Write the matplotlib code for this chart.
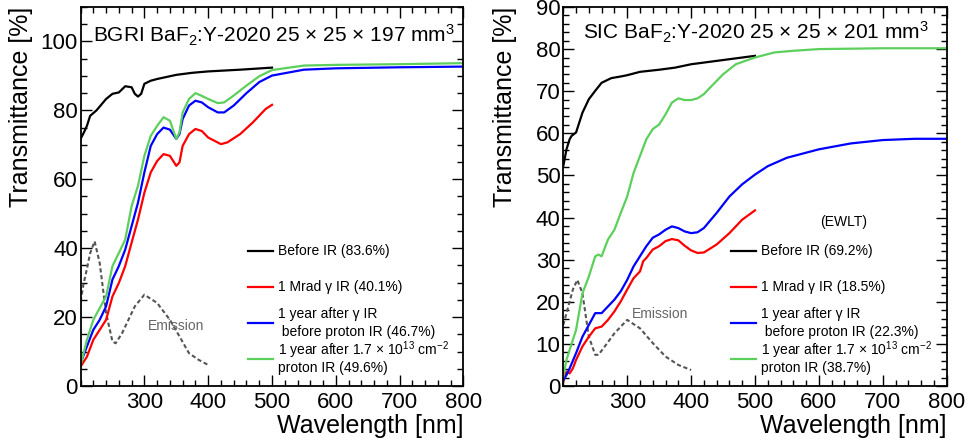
import numpy as np
import matplotlib
matplotlib.use("Agg")
import matplotlib.pyplot as plt
from matplotlib.ticker import MultipleLocator

plt.rcParams['font.family'] = ['Liberation Sans', 'DejaVu Sans']
plt.rcParams['mathtext.fontset'] = 'custom'
plt.rcParams['mathtext.rm'] = 'Liberation Sans'
plt.rcParams['mathtext.it'] = 'Liberation Sans:italic'

# ---------------- BGRI (left panel) ----------------
bgri_wl_before = [200, 205, 210, 215, 225, 240, 250, 260, 270, 280, 285, 290, 295, 300, 310,
                  320, 340, 350, 375, 400, 450, 500]
bgri_before = [71.7, 73.5, 75.5, 78.4, 80.0, 83.3, 84.8, 85.2, 87.0, 86.7, 84.8, 84.0, 84.8, 87.7, 88.6,
               89.1, 89.9, 90.3, 90.9, 91.3, 91.8, 92.4]

bgri_wl_gamma = [200, 210, 220, 230, 240, 250, 260, 270, 280, 290, 300, 310, 320, 330, 340, 350,
                 355, 360, 370, 380, 390, 400, 420, 430, 450, 470, 490, 500]
bgri_gamma = [5.6, 8.5, 13.4, 16.3, 19.2, 26.0, 29.9, 34.8, 41.6, 48.3, 56.1, 62.0, 65.3, 67.3, 66.8, 63.9,
              64.9, 69.7, 73.1, 74.6, 74.0, 72.1, 70.2, 70.7, 73.1, 76.5, 80.4, 81.6]

bgri_wl_long = [200, 210, 220, 230, 240, 250, 260, 270, 280, 290, 300, 310, 320, 330, 340, 350,
                355, 360, 370, 380, 390, 400, 415, 425, 440, 460, 480, 500, 550, 600, 700, 800]
bgri_1yr = [6.6, 11.5, 16.3, 19.2, 23.1, 30.9, 34.8, 39.6, 46.4, 53.2, 62.0, 69.7, 73.1, 75.0, 74.4, 71.7,
            73.1, 77.5, 81.4, 82.8, 82.3, 80.9, 79.4, 79.4, 81.4, 85.0, 88.2, 90.1, 91.8, 92.2, 92.5, 92.7]
bgri_proton = [6.0, 13.4, 19.2, 22.6, 26.0, 34.8, 38.6, 42.5, 52.2, 58.1, 66.8, 72.6, 75.5, 78.0, 77.0, 71.7,
               73.6, 79.4, 83.3, 85.0, 84.2, 83.3, 82.1, 82.3, 84.3, 87.2, 89.9, 91.7, 93.0, 93.2, 93.4, 93.7]

bgri_wl_em = [200, 205, 210, 215, 222, 230, 240, 250, 255, 265, 275, 285, 300, 320, 340, 355, 370, 385, 400]
bgri_em = [24.6, 29.9, 34.0, 38.5, 42.0, 35.7, 21.2, 12.9, 12.4, 15.3, 19.2, 23.1, 26.5, 24.1, 19.2, 14.4,
           9.5, 7.6, 6.1]

# ---------------- SIC (right panel) ----------------
sic_wl_before = [200, 205, 210, 213, 220, 230, 240, 250, 260, 275, 290, 300, 320, 350, 375, 400, 450, 500]
sic_before = [52.2, 56.2, 58.6, 59.4, 60.2, 64.9, 68.1, 70.1, 72.0, 73.1, 73.5, 73.8, 74.6, 75.1, 75.6,
              76.4, 77.4, 78.4]

sic_wl_gamma = [200, 205, 210, 215, 220, 230, 240, 250, 260, 270, 280, 290, 300, 310, 320, 325, 330, 340,
                350, 360, 370, 380, 390, 400, 410, 420, 440, 460, 480, 500]
sic_gamma = [1.0, 3.4, 3.0, 4.2, 6.2, 9.4, 11.7, 13.7, 14.1, 15.7, 17.7, 20.1, 22.9, 25.6, 27.2, 29.6, 30.4,
             32.4, 33.2, 34.4, 34.9, 34.6, 33.3, 32.2, 31.6, 31.7, 33.6, 36.3, 39.5, 41.7]

sic_wl_1yr = [200, 205, 210, 220, 230, 240, 250, 260, 270, 280, 290, 300, 310, 320, 330, 340, 350, 360,
              370, 380, 390, 400, 410, 420, 440, 460, 480, 500, 520, 550, 600, 650, 700, 750, 800]
sic_1yr = [1.4, 2.6, 4.2, 7.8, 11.7, 14.5, 17.3, 17.3, 18.9, 20.5, 22.5, 25.2, 28.4, 30.8, 33.2, 35.2, 36.0,
           37.1, 37.9, 37.5, 36.7, 36.3, 36.5, 37.5, 41.1, 45.0, 47.9, 50.2, 52.2, 54.2, 56.2, 57.6, 58.4,
           58.7, 58.7]

sic_wl_proton = [200, 205, 210, 220, 230, 240, 250, 255, 260, 270, 280, 290, 300, 310, 320, 330, 340, 350,
                 360, 370, 380, 390, 400, 410, 420, 430, 450, 470, 500, 530, 560, 600, 700, 800]
sic_proton = [2.2, 6.2, 8.6, 13.3, 22.0, 26.0, 30.8, 31.2, 30.8, 34.8, 37.1, 41.1, 45.0, 50.6, 54.6, 58.6,
              61.0, 62.1, 64.5, 67.3, 68.3, 67.9, 67.9, 68.3, 69.3, 70.9, 74.0, 76.4, 78.0, 79.2, 79.6, 80.0,
              80.2, 80.2]

sic_wl_em = [200, 205, 210, 215, 222, 230, 240, 250, 255, 265, 280, 300, 320, 340, 360, 380, 400]
sic_em = [14.5, 17.3, 20.1, 22.9, 25.2, 22.0, 11.7, 7.4, 7.4, 9.4, 12.5, 15.7, 13.7, 10.2, 7.0, 5.0, 3.8]

colors = ['black', '#ff0000', '#0000ff', '#5ccf5c']
# each legend entry is a list of text lines
bgri_labels = [['Before IR (83.6%)'],
               ['1 Mrad \u03b3 IR (40.1%)'],
               ['1 year after \u03b3 IR', ' before proton IR (46.7%)'],
               ['1 year after 1.7 \u00d7 10$^{\\mathregular{13}}$ cm$^{\\mathregular{-2}}$', 'proton IR (49.6%)']]
sic_labels = [['Before IR (69.2%)'],
              ['1 Mrad \u03b3 IR (18.5%)'],
              ['1 year after \u03b3 IR', ' before proton IR (22.3%)'],
              ['1 year after 1.7 \u00d7 10$^{\\mathregular{13}}$ cm$^{\\mathregular{-2}}$', 'proton IR (38.7%)']]


def style_axis(ax, ymax, yminor, yticks):
    ax.set_xlim(200, 800)
    ax.set_ylim(0, ymax)
    ax.set_xticks([300, 400, 500, 600, 700, 800])
    ax.xaxis.set_minor_locator(MultipleLocator(20))
    ax.set_yticks(yticks)
    ax.yaxis.set_minor_locator(MultipleLocator(yminor))
    ax.tick_params(which='both', direction='in', top=True, right=True, width=1.0)
    ax.tick_params(which='major', length=8, labelsize=16)
    ax.tick_params(which='minor', length=4.5)
    ax.tick_params(axis='x', pad=4)
    ax.tick_params(axis='y', pad=2)
    for sp in ax.spines.values():
        sp.set_linewidth(1.3)
    ax.set_xlabel('Wavelength [nm]', fontsize=18, loc='right')
    ax.set_ylabel('Transmittance [%]', fontsize=18, loc='top')
    ax.xaxis.set_label_coords(1.0, -0.075)


def draw_legend(ax, labels):
    ys = [0.356, 0.261, 0.166, 0.071]
    dy = 0.0475  # distance between the two text lines of one entry
    for lines, c, y in zip(labels, colors, ys):
        ax.plot([0.437, 0.503], [y, y], color=c, lw=1.6, transform=ax.transAxes)
        offs = [0.0] if len(lines) == 1 else [dy / 2, -dy / 2]
        for txt, o in zip(lines, offs):
            ax.text(0.516, y + o, txt, fontsize=10, va='center', ha='left',
                    transform=ax.transAxes)


fig = plt.figure(figsize=(9.67, 4.42), dpi=100)
ax1 = fig.add_axes([0.0833, 0.1267, 0.396, 0.8575])
ax2 = fig.add_axes([0.5825, 0.1267, 0.3965, 0.8575])

# left panel
lw = 1.6
ax1.plot(bgri_wl_em, bgri_em, color='#555555', lw=1.5, ls=(0, (2, 1.3)))
ax1.plot(bgri_wl_before, bgri_before, color=colors[0], lw=lw)
ax1.plot(bgri_wl_gamma, bgri_gamma, color=colors[1], lw=lw)
ax1.plot(bgri_wl_long, bgri_1yr, color=colors[2], lw=lw)
ax1.plot(bgri_wl_long, bgri_proton, color=colors[3], lw=lw)
style_axis(ax1, 110, 5, [0, 20, 40, 60, 80, 100])
ax1.yaxis.set_label_coords(-0.124, 1.0)
ax1.text(0.033, 0.905, 'BGRI BaF$_2$:Y-2020 25 \u00d7 25 \u00d7 197 mm$^3$', fontsize=15,
         transform=ax1.transAxes, va='baseline')
ax1.text(0.176, 0.158, 'Emission', fontsize=10, color='#666666', va='center', transform=ax1.transAxes)
draw_legend(ax1, bgri_labels)

# right panel
ax2.plot(sic_wl_em, sic_em, color='#555555', lw=1.5, ls=(0, (2, 1.3)))
ax2.plot(sic_wl_before, sic_before, color=colors[0], lw=lw)
ax2.plot(sic_wl_gamma, sic_gamma, color=colors[1], lw=lw)
ax2.plot(sic_wl_1yr, sic_1yr, color=colors[2], lw=lw)
ax2.plot(sic_wl_proton, sic_proton, color=colors[3], lw=lw)
style_axis(ax2, 90, 2, list(range(0, 91, 10)))
ax2.yaxis.set_label_coords(-0.121, 1.0)
ax2.text(0.051, 0.913, 'SIC BaF$_2$:Y-2020 25 \u00d7 25 \u00d7 201 mm$^3$', fontsize=15,
         transform=ax2.transAxes, va='baseline')
ax2.text(0.178, 0.19, 'Emission', fontsize=10, color='#666666', va='center', transform=ax2.transAxes)
ax2.text(0.732, 0.433, '(EWLT)', fontsize=10, ha='center', va='center', transform=ax2.transAxes)
draw_legend(ax2, sic_labels)

fig.savefig('out.png', dpi=100)
